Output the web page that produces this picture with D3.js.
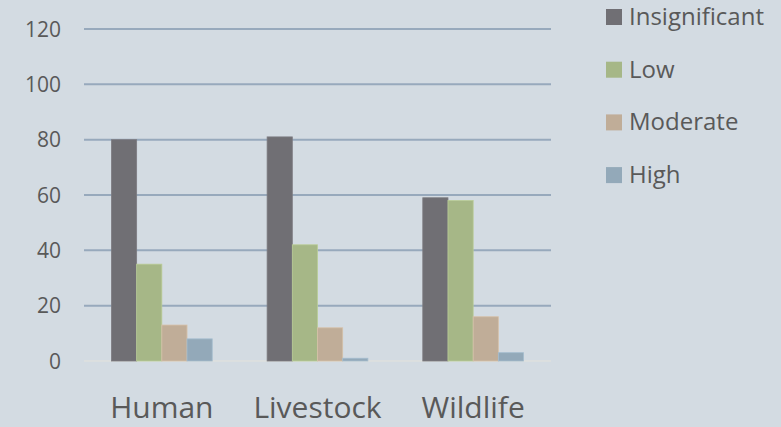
<!DOCTYPE html>
<html>
<head>
<meta charset="utf-8">
<script src="https://cdn.jsdelivr.net/npm/d3@7"></script>
<style>
  html, body { margin: 0; padding: 0; background: #d3dbe2; }
  svg { display: block; font-family: "Open Sans", sans-serif; }
</style>
</head>
<body>
<div id="chart"></div>
<script>
// data
var categories = ["Human", "Livestock", "Wildlife"];
var levels = ["Insignificant", "Low", "Moderate", "High"];
var insignificant = [80, 81, 59];
var low = [35, 42, 58];
var moderate = [13, 12, 16];
var high = [8, 1, 3];
var yTicks = [0, 20, 40, 60, 80, 100, 120];
var colors = ["#706f74", "#a6b787", "#c0ad98", "#93a9b9"];

var width = 781, height = 427;
var series = [insignificant, low, moderate, high];

var svg = d3.select("#chart").append("svg")
    .attr("width", width)
    .attr("height", height);

svg.append("rect").attr("width", width).attr("height", height).attr("fill", "#d3dbe2");

var x0 = d3.scaleBand().domain(categories).range([84, 551]).paddingInner(0).paddingOuter(0);
var x1 = d3.scaleBand().domain(levels).range([0, x0.bandwidth()]).paddingInner(0).paddingOuter(1.09);
var y = d3.scaleLinear().domain([0, 120]).range([361, 29]);

// gridlines
svg.append("g").selectAll("line")
    .data(yTicks.filter(function(d){ return d > 0; }))
    .enter().append("line")
    .attr("x1", 84).attr("x2", 551)
    .attr("y1", function(d){ return y(d); })
    .attr("y2", function(d){ return y(d); })
    .attr("stroke", "#97a9bc")
    .attr("stroke-width", 2);

// zero line
svg.append("line")
    .attr("x1", 84).attr("x2", 551)
    .attr("y1", y(0)).attr("y2", y(0))
    .attr("stroke", "#e4e3dc")
    .attr("stroke-width", 1);

// y tick labels
svg.append("g").selectAll("text")
    .data(yTicks)
    .enter().append("text")
    .attr("x", 61)
    .attr("y", function(d){ return y(d) + 7.5; })
    .attr("text-anchor", "end")
    .attr("font-size", 21)
    .attr("fill", "#595959")
    .text(function(d){ return d; });

// bars
var groups = svg.append("g").selectAll("g")
    .data(categories)
    .enter().append("g")
    .attr("transform", function(d){ return "translate(" + x0(d) + ",0)"; });

groups.selectAll("rect")
    .data(function(d, i){
        return levels.map(function(l, j){ return {level: l, value: series[j][i], idx: j}; });
    })
    .enter().append("rect")
    .attr("x", function(d){ return x1(d.level); })
    .attr("width", x1.bandwidth())
    .attr("y", function(d){ return y(d.value); })
    .attr("height", function(d){ return y(0) - y(d.value); })
    .attr("fill", function(d){ return colors[d.idx]; })
    .attr("stroke", function(d){ return d3.color(colors[d.idx]).brighter(0.3); })
    .attr("stroke-width", 0.8);

// category labels
svg.append("g").selectAll("text")
    .data(categories)
    .enter().append("text")
    .attr("x", function(d){ return x0(d) + x0.bandwidth() / 2; })
    .attr("y", 418)
    .attr("text-anchor", "middle")
    .attr("font-size", 30)
    .attr("fill", "#595959")
    .text(function(d){ return d; });

// legend
var legend = svg.append("g").selectAll("g")
    .data(levels)
    .enter().append("g")
    .attr("transform", function(d, i){ return "translate(606," + (9 + i * 52.7) + ")"; });

legend.append("rect")
    .attr("width", 16).attr("height", 16)
    .attr("fill", function(d, i){ return colors[i]; });

legend.append("text")
    .attr("x", 23)
    .attr("y", 16)
    .attr("font-size", 24)
    .attr("fill", "#595959")
    .text(function(d){ return d; });
</script>
</body>
</html>
